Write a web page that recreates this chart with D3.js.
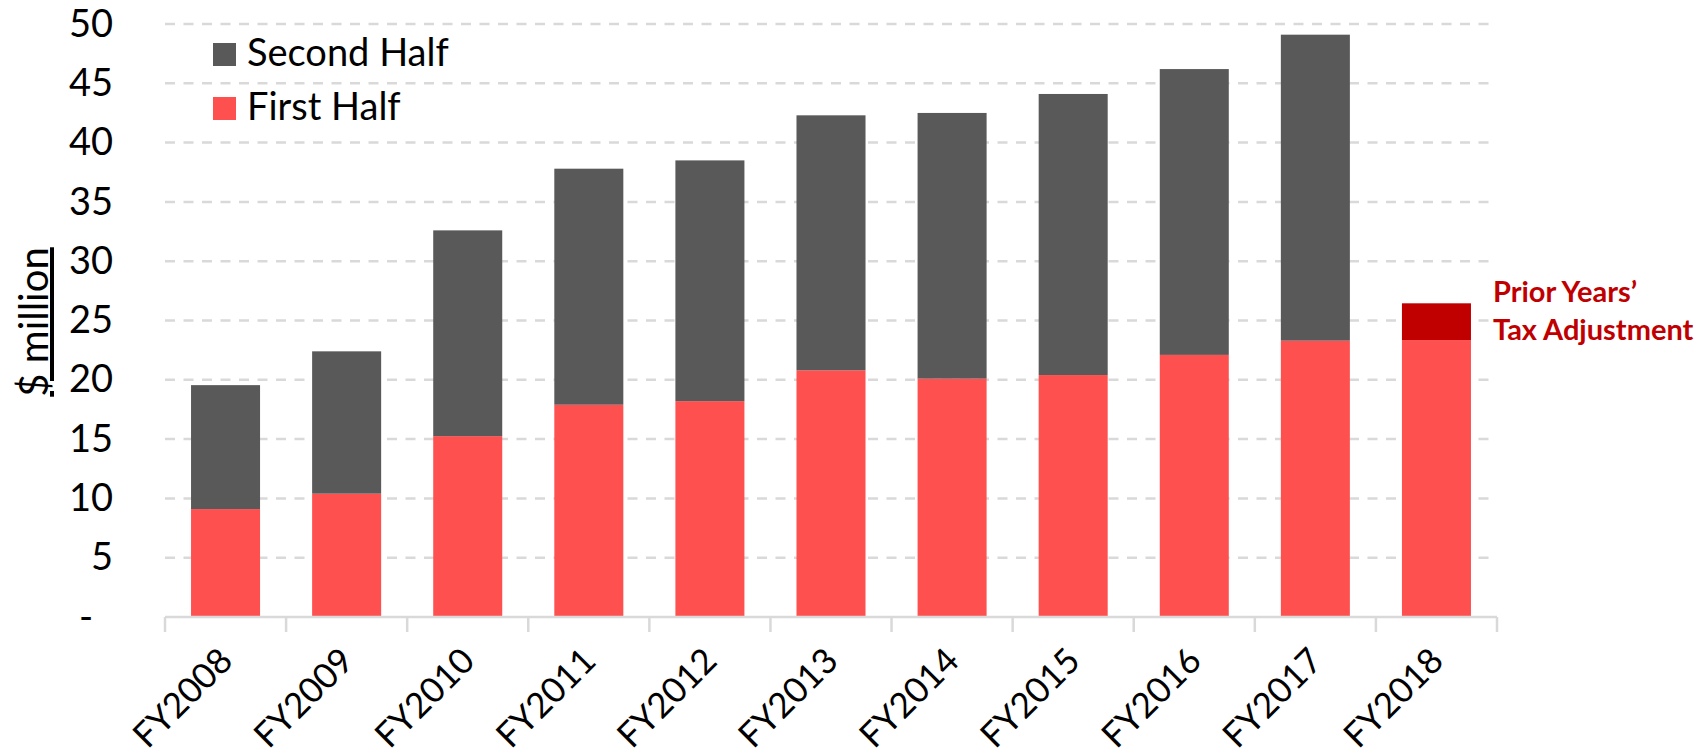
<!DOCTYPE html>
<html>
<head>
<meta charset="utf-8">
<script src="https://cdn.jsdelivr.net/npm/d3@7"></script>
<style>
    body { margin: 0; background: #fff; }
    text { font-family: Lato, "Open Sans", sans-serif; }
</style>
</head>
<body>
<svg id="svg1" width="1703" height="754"></svg>
<script>
var categories = ['FY2008', 'FY2009', 'FY2010', 'FY2011', 'FY2012', 'FY2013', 'FY2014', 'FY2015', 'FY2016', 'FY2017', 'FY2018'];
var firstHalf = [9.1, 10.4, 15.25, 17.9, 18.2, 20.8, 20.1, 20.4, 22.1, 23.3, 23.35];
var secondHalf = [10.45, 12.0, 17.35, 19.9, 20.3, 21.5, 22.4, 23.7, 24.1, 25.8, 0];
var taxAdjustment = [0, 0, 0, 0, 0, 0, 0, 0, 0, 0, 3.1];
var yTicks = [0, 5, 10, 15, 20, 25, 30, 35, 40, 45, 50];
var legendLabels = ['Second Half', 'First Half'];
var noteLines = ['Prior Years\u2019', 'Tax Adjustment'];

var colors = { first: '#ff5050', second: '#595959', tax: '#c00000' };

var svg = d3.select('#svg1');
var plotLeft = 165, plotRight = 1497, plotTop = 24, plotBottom = 617;

var x = d3.scaleBand().domain(categories).range([plotLeft, plotRight])
    .paddingInner(0.43).paddingOuter(0.215);
var y = d3.scaleLinear().domain([0, 50]).range([plotBottom, plotTop]);

// table for the stack
var table = categories.map(function (c, i) {
    return { cat: c, first: firstHalf[i], second: secondHalf[i], tax: taxAdjustment[i] };
});
var series = d3.stack().keys(['first', 'second', 'tax'])(table);

// dashed gridlines
svg.append('g').selectAll('line')
    .data(yTicks.filter(function (d) { return d > 0; }))
    .enter().append('line')
    .attr('x1', plotLeft).attr('x2', plotRight)
    .attr('y1', function (d) { return y(d); })
    .attr('y2', function (d) { return y(d); })
    .attr('stroke', '#d9d9d9')
    .attr('stroke-width', 2.5)
    .attr('stroke-dasharray', '10,8.5');

// bars
svg.append('g').selectAll('g')
    .data(series)
    .enter().append('g')
    .attr('fill', function (s) { return colors[s.key]; })
    .selectAll('rect')
    .data(function (s) { return s.filter(function (d) { return d[1] - d[0] > 0; }); })
    .enter().append('rect')
    .attr('x', function (d) { return x(d.data.cat); })
    .attr('width', x.bandwidth())
    .attr('y', function (d) { return y(d[1]); })
    .attr('height', function (d) { return y(d[0]) - y(d[1]); });

// y axis labels
var yAxis = svg.append('g')
    .attr('transform', 'translate(' + plotLeft + ',0)')
    .call(d3.axisLeft(y).tickValues(yTicks).tickSize(0).tickPadding(52)
        .tickFormat(function (d) { return d == 0 ? '-' : d; }));
yAxis.select('.domain').remove();
yAxis.selectAll('text')
    .attr('font-size', 38)
    .attr('fill', '#000')
    .attr('font-family', 'Lato, sans-serif');
yAxis.selectAll('.tick').filter(function (d) { return d == 0; })
    .select('text').attr('x', -72);

// x axis line and tick marks at band edges
var half = (x.step() - x.bandwidth()) / 2;
var edges = categories.map(function (c) { return x(c) - half; });
edges.push(plotRight);
svg.append('line')
    .attr('x1', plotLeft).attr('x2', plotRight)
    .attr('y1', plotBottom).attr('y2', plotBottom)
    .attr('stroke', '#d9d9d9').attr('stroke-width', 2.5);
svg.append('g').selectAll('line')
    .data(edges)
    .enter().append('line')
    .attr('x1', function (d) { return d; })
    .attr('x2', function (d) { return d; })
    .attr('y1', plotBottom).attr('y2', plotBottom + 15)
    .attr('stroke', '#d9d9d9').attr('stroke-width', 2.5);

// x labels, rotated
var xAxis = svg.append('g')
    .attr('transform', 'translate(0,' + plotBottom + ')')
    .call(d3.axisBottom(x).tickSize(0));
xAxis.select('.domain').remove();
xAxis.selectAll('text')
    .attr('font-size', 35)
    .attr('fill', '#000')
    .attr('font-family', 'Lato, sans-serif')
    .attr('text-anchor', 'end')
    .attr('x', 0).attr('y', 0).attr('dy', 0)
    .attr('transform', 'translate(9,46) rotate(-45)');

// y title
svg.append('text')
    .attr('transform', 'translate(48,322) rotate(-90)')
    .attr('text-anchor', 'middle')
    .attr('font-size', 40)
    .attr('text-decoration', 'underline')
    .text('$ million');

// legend
var legend = svg.append('g').selectAll('g')
    .data(legendLabels)
    .enter().append('g')
    .attr('transform', function (d, i) { return 'translate(213,' + (43 + i * 54) + ')'; });
legend.append('rect')
    .attr('width', 23).attr('height', 23)
    .attr('fill', function (d, i) { return i == 0 ? colors.second : colors.first; });
legend.append('text')
    .attr('x', 34).attr('y', 23)
    .attr('font-size', 38)
    .text(function (d) { return d; });

// note next to FY2018
svg.append('g').selectAll('text')
    .data(noteLines)
    .enter().append('text')
    .attr('x', x('FY2018') + x.bandwidth() + 22)
    .attr('y', function (d, i) { return 302 + i * 38; })
    .attr('font-size', 29)
    .attr('font-weight', 'bold')
    .attr('fill', colors.tax)
    .text(function (d) { return d; });
</script>
</body>
</html>
